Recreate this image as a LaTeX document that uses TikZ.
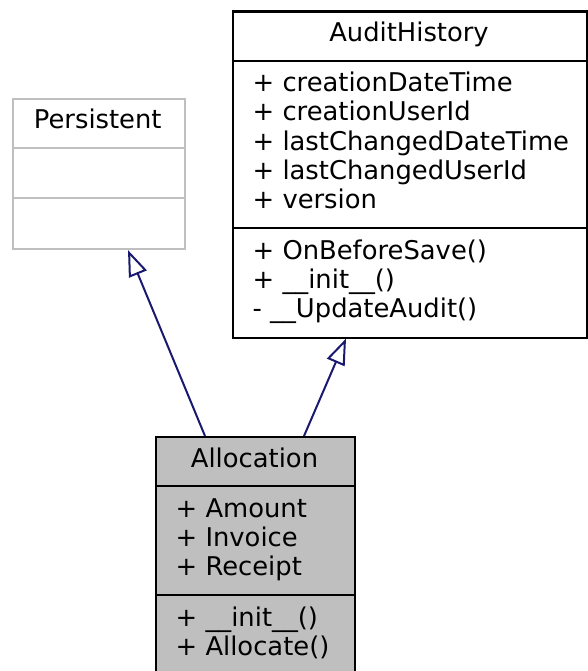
\documentclass[tikz,border=0pt]{standalone}
\usepackage{fontspec}
\setmainfont{DejaVu Sans}
\usetikzlibrary{arrows.meta}
\definecolor{edgeblue}{HTML}{191970}
\definecolor{grayfill}{HTML}{BFBFBF}
\definecolor{grayline}{HTML}{BFBFBF}
\begin{document}
\begin{tikzpicture}[x=1pt,y=-1pt,
  classbox/.style={draw=black,line width=2.1pt,rectangle,inner sep=0pt,anchor=north west,fill=white},
  lbl/.style={inner sep=0pt,font=\fontsize{25.8}{29}\selectfont},
  member/.style={lbl,anchor=base west},
  title/.style={lbl,anchor=base},
  divider/.style={line width=2.1pt},
  inherit/.style={draw=edgeblue,line width=2pt,-{Triangle[open,length=26pt,width=19pt,line width=2pt]}}
]
\useasboundingbox (0,0) rectangle (587,671);
% Persistent
\node[classbox,draw=grayline,minimum width=172.5pt,minimum height=150pt] (pers) at (11.5,98) {};
\draw[divider,grayline] (11.5,148) -- (184,148);
\draw[divider,grayline] (11.5,198) -- (184,198);
\node[title] (perst) at (97.75,129) {Persistent};
% AuditHistory
\node[classbox,minimum width=354pt,minimum height=326pt] (ah) at (232,10.5) {};
\draw[divider] (232,61) -- (586,61);
\draw[divider] (232,228) -- (586,228);
\node[title] (aht) at (409,41.5) {AuditHistory};
\node[member] (ah1) at (252.5,92) {+ creationDateTime};
\node[member] (ah2) at (252.5,121) {+ creationUserId};
\node[member] (ah3) at (252.5,150) {+ lastChangedDateTime};
\node[member] (ah4) at (252.5,179) {+ lastChangedUserId};
\node[member] (ah5) at (252.5,208) {+ version};
\node[member] (ah6) at (252.5,259) {+ OnBeforeSave()};
\node[member] (ah7) at (252.5,288) {+ \_\_init\_\_()};
\node[member] (ah8) at (252.5,317) {- \_\_UpdateAudit()};
% Allocation
\node[classbox,fill=grayfill,minimum width=199pt,minimum height=240pt] (al) at (155,436) {};
\draw[divider] (155,486) -- (354,486);
\draw[divider] (155,595) -- (354,595);
\node[title] (alt) at (254.5,467) {Allocation};
\node[member] (al1) at (175.5,517) {+ Amount};
\node[member] (al2) at (175.5,546) {+ Invoice};
\node[member] (al3) at (175.5,575) {+ Receipt};
\node[member] (al4) at (175.5,626) {+ \_\_init\_\_()};
\node[member] (al5) at (175.5,655) {+ Allocate()};
% inheritance
\draw[inherit] ([xshift=50pt]al.north west) -- ([xshift=116.5pt]pers.south west);
\draw[inherit] ([xshift=149pt]al.north west) -- ([xshift=114pt]ah.south west);
\end{tikzpicture}
\end{document}
